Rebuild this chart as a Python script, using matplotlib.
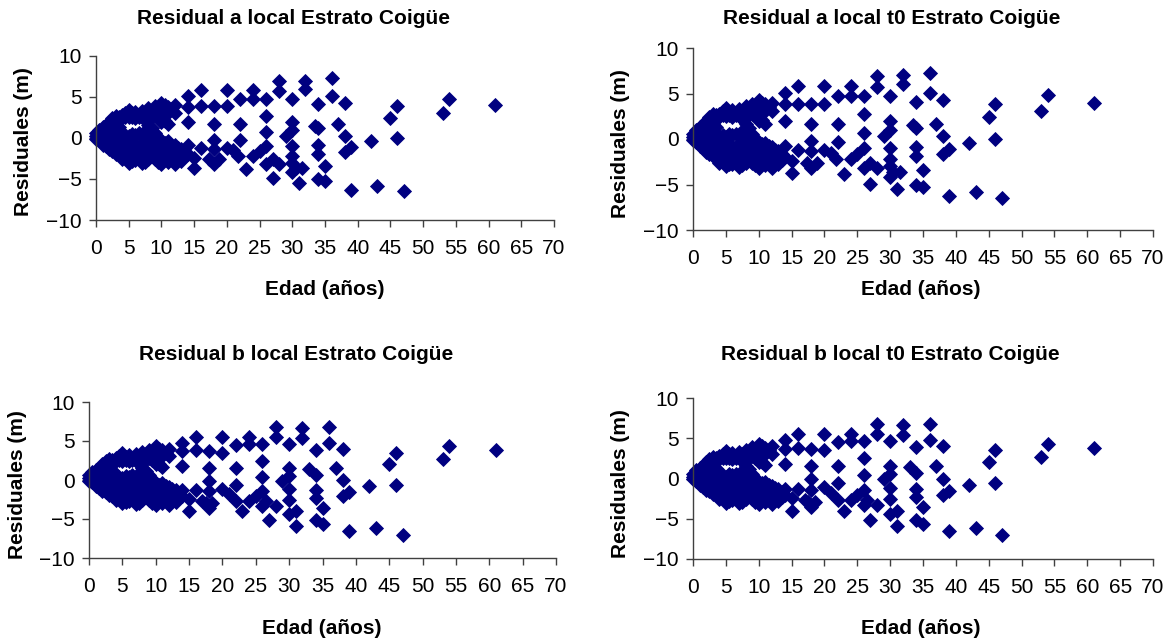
import numpy as np
import matplotlib
matplotlib.use("Agg")
import matplotlib.pyplot as plt

plt.rcParams['font.family'] = ['Liberation Sans', 'DejaVu Sans']

# ---------------- data ----------------
# dense cluster of young trees (shared by all panels): one age per column, residuals per column
cluster_ages = [0, 0.5, 1, 1.5, 2, 2.5, 3, 3.5, 4, 4.5, 5, 5.5, 6, 6.5, 7, 7.5,
                8, 8.5, 9, 9.5, 10, 10.5, 11, 11.5, 12, 12.5, 13, 13.5]
cluster_residuals = [
    [0.2, 0.6, -0.1],
    [1.0, 0.3, -0.3],
    [1.3, 0.6, -0.2, -0.8],
    [1.6, 0.9, 0.0, -1.0],
    [2.0, 1.2, 0.3, -0.6, -1.4],
    [2.4, 1.5, 0.5, -0.5, -1.6],
    [2.7, 1.6, 0.2, -0.8, -1.9],
    [2.6, 1.3, 0.0, -1.0, -2.0],
    [2.8, 2.4, 0.3, -0.8, -1.7, -2.6],
    [3.1, 2.6, 0.4, -1.3, -2.4],
    [3.4, 2.5, 0.2, -0.6, -1.6, -2.4, -3.0],
    [3.0, 2.6, 0.5, -1.1, -2.1, -2.8],
    [3.2, 2.4, 0.4, -0.8, -1.8, -2.7],
    [2.8, 2.6, 0.6, -1.4, -2.4],
    [3.3, 2.5, 0.3, -0.6, -1.7, -2.6, -3.1],
    [3.0, 2.2, 0.9, -0.2, -1.2, -2.2, -2.9],
    [3.6, 2.9, 1.6, 0.6, -0.6, -1.6, -2.6],
    [3.3, 2.6, 1.2, 0.0, -1.1, -2.2],
    [3.9, 3.2, 2.8, 0.6, -0.5, -1.6, -2.6],
    [3.6, 2.6, 0.1, -1.0, -2.2, -2.9],
    [4.3, 3.6, 3.0, 2.0, -0.4, -1.2, -2.2, -3.2],
    [4.0, 3.3, 2.1, -0.6, -1.6, -2.6],
    [3.8, 3.1, 1.7, -0.4, -1.0, -2.0, -2.9],
    [3.5, -0.8, -1.6, -2.5],
    [4.0, 3.1, -0.9, -1.7, -2.4, -3.2],
    [-1.2, -2.0, -2.7],
    [-1.3, -2.0, -2.8],
    [-1.7, -2.3],
]

# older trees, parameter "a" models
ages_a = [14, 14, 14, 14, 14, 15, 15, 16, 16, 16, 17.3, 18, 18, 18, 18, 18, 18.8,
          20, 20, 20, 21, 21.7, 22, 22, 22, 23, 24, 24, 24, 25,
          26, 26, 26, 26, 26, 27, 27, 28, 28, 28,
          29, 30, 30, 30, 30, 30, 30, 30.5, 30, 31, 31.5, 32, 32,
          33.5, 34, 34, 34, 34, 34, 35, 35,
          36, 36, 37, 38, 38, 38, 39, 39,
          42, 43, 45, 46, 46, 47, 53, 54, 61]
resid_a = [5.1, 3.8, 2.0, -0.8, -2.0, -2.4, -3.7, 5.8, 3.9, -1.2, -2.6, 3.9, 1.7, -0.2, -1.3, -3.2, -2.6,
           5.8, 3.9, -1.2, -1.5, -2.2, 4.7, 1.7, -0.3, -3.8, 5.8, 4.7, -2.2, -1.6,
           -1.0, 4.7, 2.7, 0.7, -3.2, -2.6, -4.9, 6.9, 5.7, -3.2,
           0.3, 4.7, 2.0, 1.0, -1.0, -2.2, -3.0, -3.6, -4.2, -5.5, -3.6, 7.0, 6.0,
           1.5, 1.2, 4.1, -0.9, -1.9, -5.0, -3.4, -5.3,
           7.3, 5.1, 1.7, 4.3, 0.3, -1.7, -1.1, -6.3,
           -0.4, -5.8, 2.4, 3.9, 0.0, -6.5, 3.1, 4.8, 4.0]

# older trees, parameter "b" models
ages_b = [14, 14, 14, 14, 14, 15, 15, 16, 16, 16, 17,
          18, 18, 18, 18, 17.5, 18.5, 18,
          20, 20, 20, 21, 22, 22, 22, 22, 23,
          24, 24, 24, 25, 26, 26, 26, 26, 26, 26.5, 27,
          28, 28, 28, 29, 30, 30, 30, 30, 30, 30,
          31, 31, 32, 32, 33, 34, 34, 34, 34, 34, 35, 35,
          36, 36, 37, 38, 38, 38, 39, 39,
          42, 43, 45, 46, 46, 47, 53, 54, 61]
resid_b = [4.8, 3.7, 1.8, -1.3, -2.0, -2.4, -4.0, 5.5, 3.8, -1.3, -2.7,
           3.7, 1.6, -0.1, -1.4, -2.9, -2.9, -3.6,
           5.5, 3.5, -1.1, -1.8, 4.5, 1.6, -0.6, -2.7, -4.0,
           5.5, 4.6, -2.7, -2.1, 4.6, 2.5, 0.4, -1.4, -3.3, -2.7, -5.1,
           6.8, 5.5, -3.3, -0.1, 4.6, 1.6, 0.5, -1.2, -2.5, -4.4,
           -4.0, -5.9, 6.7, 5.4, 1.4, 3.9, 0.7, -1.3, -2.3, -5.1, -3.6, -5.7,
           6.8, 4.8, 1.6, 4.0, 0.0, -2.1, -1.6, -6.5,
           -0.8, -6.2, 2.0, 3.5, -0.6, -7.0, 2.7, 4.3, 3.8]

titles = ["Residual a local Estrato Coigüe", "Residual a local t0 Estrato Coigüe",
          "Residual b local Estrato Coigüe", "Residual b local t0 Estrato Coigüe"]
x_ticks = list(range(0, 71, 5))
y_ticks = [-10, -5, 0, 5, 10]
x_label = "Edad (años)"
y_label = "Residuales (m)"

# ---------------- build series ----------------
c_ages = [a for a, col in zip(cluster_ages, cluster_residuals) for _ in col]
c_res = [r for col in cluster_residuals for r in col]
series = [
    (c_ages + ages_a, c_res + resid_a),
    (c_ages + ages_a, c_res + resid_a),
    (c_ages + ages_b, c_res + resid_b),
    (c_ages + ages_b, c_res + resid_b),
]

W, H = 1171, 643
fig = plt.figure(figsize=(W / 100, H / 100), dpi=100)

# pixel layouts: (left, right, top, bottom), title (x,y), xlabel (x,y), ylabel (x,y)
layouts = [
    ((96, 554, 56, 220), (293, 19), (325, 290), (24, 142)),
    ((693, 1153, 48, 230), (892, 19), (921, 290), (621, 144)),
    ((89, 556, 402, 558), (296, 354), (322, 628), (18, 485)),
    ((693, 1153, 398, 559), (890, 354), (921, 628), (621, 484)),
]

navy = '#000080'
fs = 15
for (xs, ys), title, (box, tpos, xlpos, ylpos) in zip(series, titles, layouts):
    l, r, t, b = box
    ax = fig.add_axes([l / W, 1 - b / H, (r - l) / W, (b - t) / H])
    ax.plot(xs, ys, linestyle='none', marker='D', color=navy, markersize=7.6,
            markeredgecolor=navy, markeredgewidth=0.6, clip_on=False)
    ax.set_xlim(0, 70)
    ax.set_ylim(-10, 10)
    ax.set_xticks(x_ticks)
    ax.set_yticks(y_ticks)
    for s in ['top', 'right']:
        ax.spines[s].set_visible(False)
    for s in ['left', 'bottom']:
        ax.spines[s].set_color('#404040')
        ax.spines[s].set_linewidth(1.0)
    ax.tick_params(axis='both', direction='out', length=5, width=1.0, color='#404040',
                   labelsize=fs, labelcolor='black')
    ax.tick_params(axis='x', pad=9)
    ax.tick_params(axis='y', pad=5)
    fig.text(tpos[0] / W, 1 - tpos[1] / H, title, ha='center', va='center',
             fontsize=fs, fontweight='bold')
    fig.text(xlpos[0] / W, 1 - xlpos[1] / H, x_label, ha='center', va='center',
             fontsize=fs, fontweight='bold')
    fig.text(ylpos[0] / W, 1 - ylpos[1] / H, y_label, ha='center', va='center',
             rotation=90, fontsize=fs, fontweight='bold')

fig.savefig('out.png', dpi=100, facecolor='white')
